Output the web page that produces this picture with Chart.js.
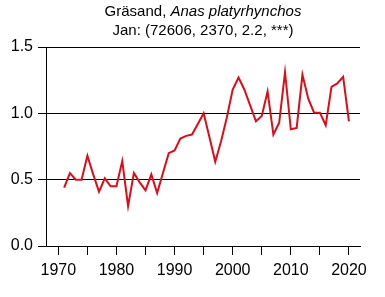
<!DOCTYPE html>
<html lang="sv">
<head>
  <meta charset="UTF-8">
  <title>Gräsand</title>
  <script src="https://cdn.jsdelivr.net/npm/chart.js"></script>
  <style>
    body { margin: 0; background: #fff; }
    #wrap { position: relative; width: 385px; height: 297px; }
    #title {
      position: absolute; top: 1px; left: 46px; width: 314px;
      text-align: center; font-family: "Liberation Sans", Arial, sans-serif;
      font-size: 15px; line-height: 19.3px; color: #000;
    }
  </style>
</head>
<body>
  <div id="wrap">
    <canvas id="trend" width="385" height="297"></canvas>
    <div id="title">Gräsand, <i>Anas platyrhynchos</i><br>Jan: (72606, 2370, 2.2, ***)</div>
  </div>
  <script>
    // index values, one per year
    const years = [1971, 1972, 1973, 1974, 1975, 1976, 1977, 1978, 1979, 1980,
      1981, 1982, 1983, 1984, 1985, 1986, 1987, 1988, 1989, 1990,
      1991, 1992, 1993, 1994, 1995, 1996, 1997, 1998, 1999, 2000,
      2001, 2002, 2003, 2004, 2005, 2006, 2007, 2008, 2009, 2010,
      2011, 2012, 2013, 2014, 2015, 2016, 2017, 2018, 2019, 2020];
    const index = [0.44, 0.55, 0.50, 0.50, 0.68, 0.54, 0.41, 0.51, 0.45, 0.45,
      0.64, 0.30, 0.55, 0.48, 0.42, 0.54, 0.40, 0.55, 0.70, 0.72,
      0.81, 0.83, 0.84, 0.92, 1.00, 0.82, 0.635, 0.79, 0.97, 1.18,
      1.27, 1.18, 1.06, 0.94, 0.98, 1.165, 0.84, 0.93, 1.31, 0.88,
      0.89, 1.29, 1.11, 1.005, 1.005, 0.91, 1.20, 1.225, 1.275, 0.94];

    const xTicks = [1970, 1975, 1980, 1985, 1990, 1995, 2000, 2005, 2010, 2015, 2020];
    const yTicks = [0, 0.5, 1.0, 1.5];

    Chart.defaults.font.family = '"Liberation Sans", Arial, sans-serif';
    Chart.defaults.color = '#000';

    const ctx = document.getElementById('trend').getContext('2d');

    new Chart(ctx, {
      type: 'line',
      data: {
        datasets: [{
          data: years.map((y, i) => ({ x: y, y: index[i] })),
          borderColor: 'rgb(222, 12, 22)',
          borderWidth: 2,
          pointRadius: 0,
          tension: 0,
          fill: false,
        }],
      },
      options: {
        responsive: false,
        animation: false,
        devicePixelRatio: 1,
        layout: { padding: { top: 47, right: 25, bottom: 0, left: 0 } },
        plugins: { legend: { display: false }, tooltip: { enabled: false }, title: { display: false } },
        scales: {
          x: {
            type: 'linear',
            min: 1967.88,
            max: 2021.9,
            afterBuildTicks: (s) => { s.ticks = xTicks.map(v => ({ value: v })); },
            afterFit: (s) => { s.height = 51; },
            ticks: {
              autoSkip: false,
              maxRotation: 0,
              padding: 6,
              font: { size: 16 },
              callback: (v) => (v % 10 === 0 ? String(v) : ''),
            },
            grid: { drawOnChartArea: false, drawTicks: true, tickLength: 9, color: '#000', lineWidth: 1 },
            border: { display: true, color: '#000', width: 1 },
          },
          y: {
            min: 0,
            max: 1.5,
            afterBuildTicks: (s) => { s.ticks = yTicks.map(v => ({ value: v })); },
            afterFit: (s) => { s.width = 46; },
            ticks: {
              padding: 5,
              font: { size: 16 },
              callback: (v) => v.toFixed(1),
            },
            grid: { drawOnChartArea: true, drawTicks: true, tickLength: 8, color: '#000', lineWidth: 1 },
            border: { display: true, color: '#000', width: 1 },
          },
        },
      },
    });
  </script>
</body>
</html>
